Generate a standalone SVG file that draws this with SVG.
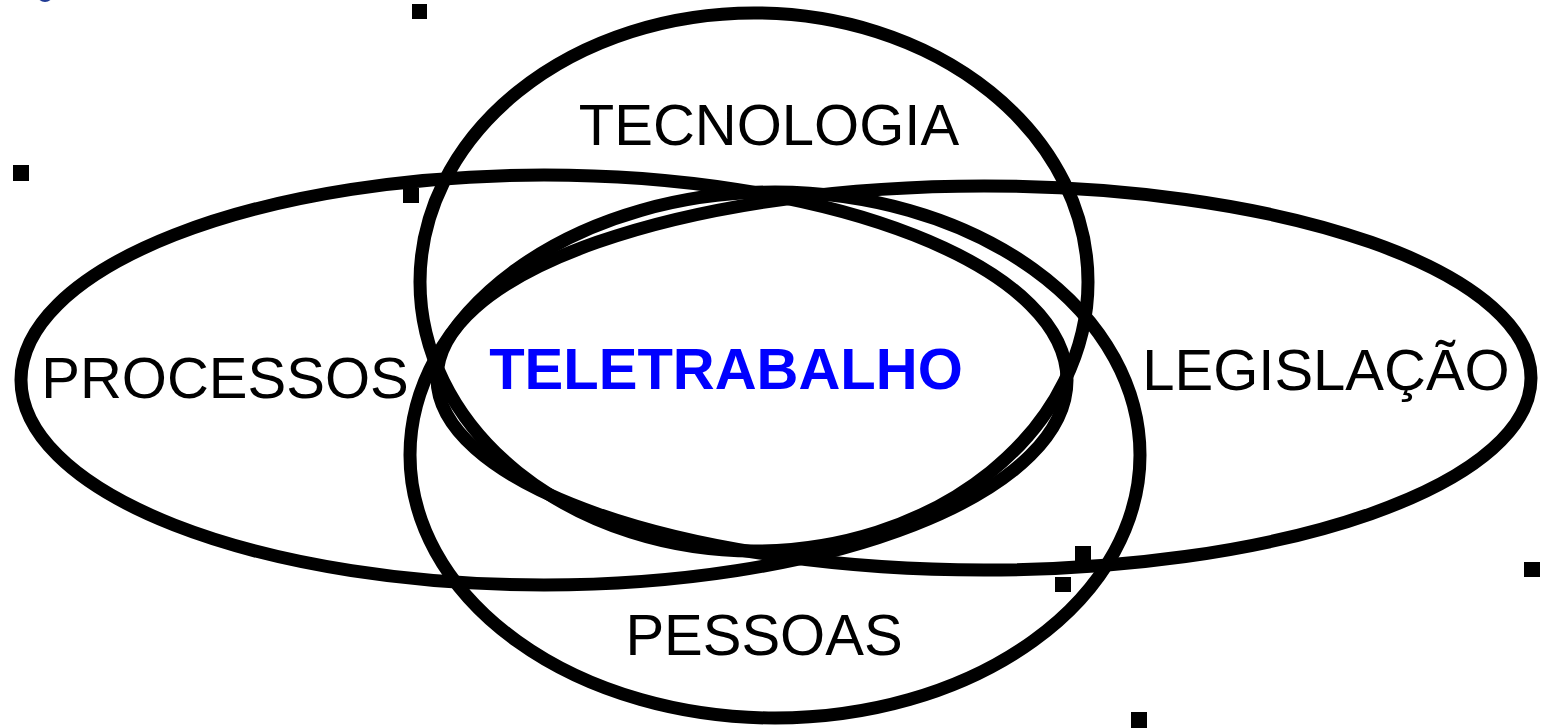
<svg xmlns="http://www.w3.org/2000/svg" width="1542" height="728" viewBox="0 0 1542 728">
<style>
.ring{fill:none;stroke:#000;stroke-width:13}
.lbl{font-family:"Liberation Sans",Arial,sans-serif;font-size:58px;fill:#000;text-anchor:middle}
.core{font-family:"Liberation Sans",Arial,sans-serif;font-size:58px;font-weight:bold;fill:#0000ff;text-anchor:middle}
.dot{fill:#000}
</style>
<rect width="1542" height="728" fill="#fff"/>
<ellipse cx="45" cy="-8" rx="9" ry="10" fill="#203a94"/>
<g id="connectors">
<ellipse id="e-tecnologia" class="ring" cx="754" cy="282" rx="334" ry="269"/>
<ellipse id="e-pessoas" class="ring" cx="775" cy="455" rx="365" ry="263"/>
<ellipse id="e-processos" class="ring" cx="544" cy="380" rx="523" ry="205"/>
<ellipse id="e-legislacao" class="ring" cx="984" cy="378" rx="547" ry="192"/>
</g>
<g id="markers">
<rect class="dot" x="412" y="4" width="15" height="15"/>
<rect class="dot" x="13" y="165" width="16" height="16"/>
<rect class="dot" x="403" y="188" width="16" height="15"/>
<rect class="dot" x="1075" y="546" width="16" height="15"/>
<rect class="dot" x="1055" y="577" width="16" height="15"/>
<rect class="dot" x="1524" y="562" width="16" height="15"/>
<rect class="dot" x="1131" y="712" width="16" height="16"/>
</g>
<g id="tecnologia"><text class="lbl" x="769" y="145">TECNOLOGIA</text></g>
<g id="processos"><text class="lbl" x="225" y="398">PROCESSOS</text></g>
<g id="legislacao"><text class="lbl" x="1326" y="390">LEGISLAÇÃO</text></g>
<g id="pessoas"><text class="lbl" x="764" y="655">PESSOAS</text></g>
<g id="teletrabalho"><text class="core" x="726" y="389">TELETRABALHO</text></g>
</svg>
